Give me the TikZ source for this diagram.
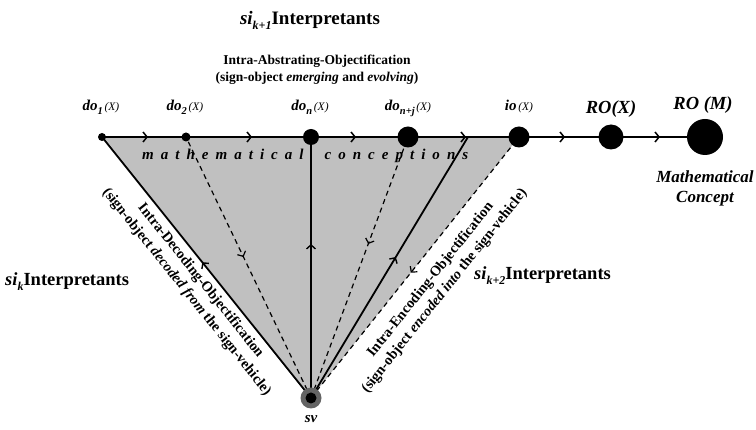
\documentclass[tikz,border=0pt]{standalone}
\usepackage{fontspec}
\setmainfont{Liberation Serif}
\usetikzlibrary{arrows.meta,decorations.markings}
\pgfdeclarelayer{background}
\pgfsetlayers{background,main}
\definecolor{fillgray}{RGB}{192,192,192}
\definecolor{ringgray}{RGB}{100,100,100}
\newcommand\fs[2]{\fontsize{#1}{#2}\selectfont}
\newcommand\dolab[1]{\textbf{\textit{\fs{15}{17}do}}\raisebox{-4pt}{\fs{10.5}{12}\textbf{\textit{#1}}}\,{\fs{11.5}{13}\textit{(X)}}}
\tikzset{
  dotnode/.style={circle,fill=black,inner sep=0pt,minimum size=#1},
  toplbl/.style={anchor=base,inner sep=0pt},
  topline/.style={line width=2.6pt},
  sideline/.style={line width=1.8pt},
  dashline/.style={line width=1.2pt,dash pattern=on 5pt off 4pt},
  fwd/.style={postaction={decorate},decoration={markings,mark=at position #1 with {\arrow[line width=1.4pt]{Straight Barb[length=4pt,width=9pt]}}}},
  bwd/.style={postaction={decorate},decoration={markings,mark=at position #1 with {\arrowreversed[line width=1.2pt]{Straight Barb[length=4pt,width=9pt]}}}},
  sidelbl/.style={sloped,align=center,font=\bfseries\fs{14.5}{18},inner sep=0pt},
}
\begin{document}
\begin{tikzpicture}[x=1pt,y=-1pt]
\useasboundingbox (0,0) rectangle (756,430);
% dots
\node[dotnode=8pt] (do1) at (102,137) {};
\node[dotnode=9pt] (do2) at (186,137) {};
\node[dotnode=16pt] (don) at (311,137) {};
\node[dotnode=21pt] (donj) at (408,137) {};
\node[dotnode=21pt] (io) at (519,137) {};
\node[dotnode=25pt] (ROX) at (611,137) {};
\node[dotnode=36pt] (ROM) at (705,137) {};
\node[circle,fill=ringgray,minimum size=21pt,inner sep=0pt] (sv) at (311,398) {};
\node[circle,fill=black,minimum size=11pt,inner sep=0pt] (svin) at (sv.center) {};
\coordinate (cross) at (468,137);
% connectors
\begin{pgfonlayer}{background}
\fill[fillgray] (do1.center) -- (io.center) -- (sv.center) -- cycle;
\draw[topline,postaction={decorate},decoration={markings,
  mark=at position 46pt with {\arrow[line width=1.5pt]{Straight Barb[length=4pt,width=10pt]}},
  mark=at position 150pt with {\arrow[line width=1.5pt]{Straight Barb[length=4pt,width=10pt]}},
  mark=at position 254pt with {\arrow[line width=1.5pt]{Straight Barb[length=4pt,width=10pt]}},
  mark=at position 364pt with {\arrow[line width=1.5pt]{Straight Barb[length=4pt,width=10pt]}},
  mark=at position 463pt with {\arrow[line width=1.5pt]{Straight Barb[length=4pt,width=10pt]}},
  mark=at position 558pt with {\arrow[line width=1.5pt]{Straight Barb[length=4pt,width=10pt]}}}]
  (do1.center) -- (ROM.center);
\draw[sideline,fwd=0.52] (sv.center) -- (do1.center);
\draw[sideline,fwd=0.59] (sv.center) -- (don.center);
\draw[sideline,fwd=0.54] (sv.center) -- (cross);
\draw[dashline,bwd=0.54] (sv.center) -- (do2.center);
\draw[dashline,bwd=0.59] (sv.center) -- (donj.center);
\draw[dashline,bwd=0.48] (sv.center) -- (io.center);
\end{pgfonlayer}
% mathematical conceptions
\node[anchor=base west,inner sep=0pt,font=\bfseries\itshape\fs{15}{17}] (mc) at (142,160)
  {\hbox to 326pt{m\hfill a\hfill t\hfill h\hfill e\hfill m\hfill a\hfill t\hfill i\hfill c\hfill a\hfill l\hfill\hfill\hfill c\hfill o\hfill n\hfill c\hfill e\hfill p\hfill t\hfill i\hfill o\hfill n\hfill s}};
% top labels
\node[toplbl] (ldo1) at (101,111) {\dolab{1}};
\node[toplbl] (ldo2) at (185,111) {\dolab{2}};
\node[toplbl] (ldon) at (310,111) {\dolab{n}};
\node[toplbl] (ldonj) at (408,111) {\dolab{n+j}};
\node[toplbl] (lio) at (519,111) {\textbf{\textit{\fs{15}{17}io}}\,{\fs{11.5}{13}\textit{(X)}}};
\node[toplbl,font=\bfseries\itshape\fs{18.5}{20}] (lROX) at (611,114) {RO(X)};
\node[toplbl,font=\bfseries\itshape\fs{18.5}{20}] (lROM) at (703,110) {RO (M)};
\node[align=center,font=\bfseries\itshape\fs{17}{20}] (mcon) at (705,188) {Mathematical\\Concept};
% titles
\node[anchor=base,inner sep=0pt] (t1) at (310,25) {\bfseries\fs{19}{21}\textit{si}\raisebox{-4.5pt}{\fs{12}{13}\textit{k+1}}Interpretants};
\node[align=center,font=\bfseries\fs{13.5}{17}] (t2) at (317,70) {Intra-Abstrating-Objectification\\(sign-object \textit{emerging} and \textit{evolving})};
\node[anchor=base west,inner sep=0pt] (sik) at (5,286) {\bfseries\fs{18.5}{20}\textit{si}\raisebox{-4.5pt}{\fs{12}{13}\textit{k}}Interpretants};
\node[anchor=base west,inner sep=0pt] (sik2) at (474,280) {\bfseries\fs{18.5}{20}\textit{si}\raisebox{-4.5pt}{\fs{12}{13}\textit{k+2}}Interpretants};
\node[font=\bfseries\itshape\fs{15}{17}] (svl) at (311,419) {sv};
% rotated labels
\path (do1.center) -- (sv.center) node[sidelbl,pos=0.52,below=6pt] (declab)
  {Intra-Decoding-Objectification\\(sign-object \textit{decoded from} the sign-vehicle)};
\path (sv.center) -- (io.center) node[sidelbl,pos=0.5,below=13pt] (enclab)
  {Intra-Encoding-Objectification\\(sign-object \textit{encoded into} the sign-vehicle)};
\end{tikzpicture}
\end{document}
